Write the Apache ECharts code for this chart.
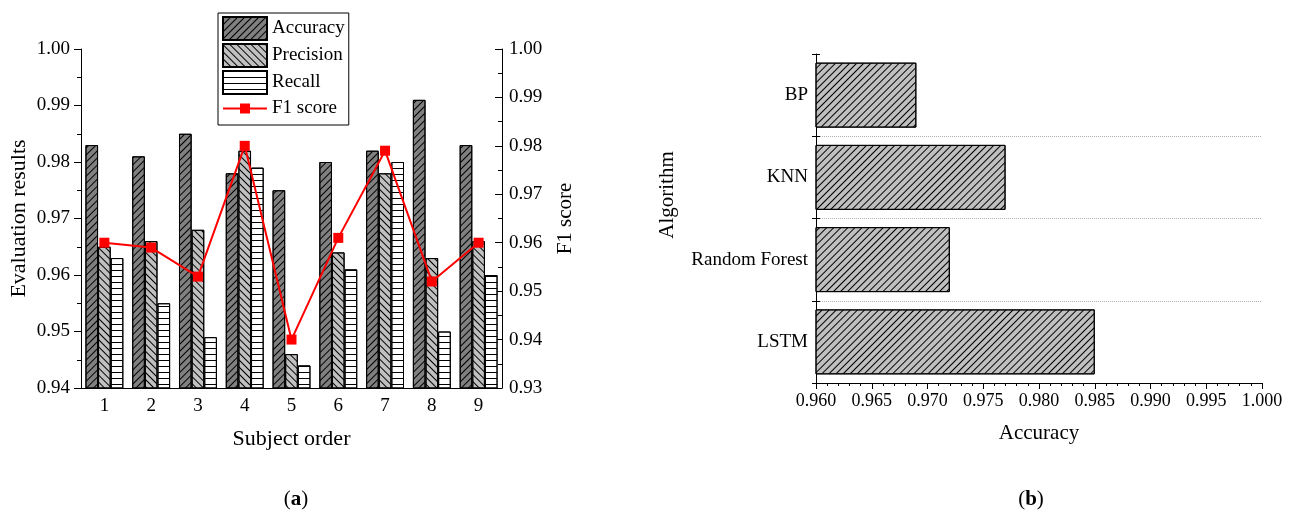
<!DOCTYPE html>
<html>
<head>
<meta charset="utf-8">
<script src="https://cdn.jsdelivr.net/npm/echarts@6/dist/echarts.min.js"></script>
<style>
html,body{margin:0;padding:0;background:#fff;}
#chart{width:1294px;height:523px;}
</style>
</head>
<body>
<div id="chart"></div>
<script>
// ---- data ----
var subjects = ['1', '2', '3', '4', '5', '6', '7', '8', '9'];
var accuracy = [0.983, 0.981, 0.985, 0.978, 0.975, 0.980, 0.982, 0.991, 0.983];
var precision = [0.965, 0.966, 0.968, 0.982, 0.946, 0.964, 0.978, 0.963, 0.966];
var recall = [0.963, 0.955, 0.949, 0.979, 0.944, 0.961, 0.980, 0.950, 0.960];
var f1Score = [0.960, 0.959, 0.953, 0.980, 0.940, 0.961, 0.979, 0.952, 0.960];
var algorithms = ['LSTM', 'Random Forest', 'KNN', 'BP'];
var algorithmAccuracy = [0.985, 0.972, 0.977, 0.969];

var FONT = "'Liberation Serif', 'Times New Roman', serif";
var chart = echarts.init(document.getElementById('chart'), null, {renderer: 'canvas'});

function hatch(rot, dy) {
  return {symbol: 'rect', symbolSize: 1, color: '#000', dashArrayX: [1, 0], dashArrayY: dy, rotation: rot};
}
var lineStyleBlack = {color: '#000', width: 1};
var f1Icon = 'path://M0,0L0.01,0L0,0.01Z M44,23L43.99,23L44,22.99Z ' +
  'M0,10.5L17,10.5L17,6.5L27,6.5L27,10.5L44,10.5L44,12.5L27,12.5L27,16.5L17,16.5L17,12.5L0,12.5Z';

var option = {
  backgroundColor: '#fff',
  animation: false,
  textStyle: {fontFamily: FONT, color: '#000'},
  title: [
    {text: '({b|a})', left: 291, top: 484, textAlign: 'center',
     textStyle: {fontFamily: FONT, fontWeight: 'normal', fontSize: 21, color: '#000',
       rich: {b: {fontFamily: FONT, fontWeight: 'bold', fontSize: 21, color: '#000'}}}},
    {text: '({b|b})', left: 1026, top: 484, textAlign: 'center',
     textStyle: {fontFamily: FONT, fontWeight: 'normal', fontSize: 21, color: '#000',
       rich: {b: {fontFamily: FONT, fontWeight: 'bold', fontSize: 21, color: '#000'}}}}
  ],
  graphic: [
    {type: 'text', x: 667, y: 195, rotation: Math.PI / 2,
     style: {text: 'Algorithm', font: "21px 'Liberation Serif', serif", fill: '#000',
       align: 'center', verticalAlign: 'middle'}}
  ],
  legend: {
    orient: 'vertical', left: 218, top: 13,
    itemWidth: 44, itemHeight: 23, itemGap: 2,
    padding: [3, 4, 5, 4],
    borderColor: '#000', borderWidth: 1, backgroundColor: '#fff',
    textStyle: {fontFamily: FONT, fontSize: 19, color: '#000'},
    data: [
      {name: 'Accuracy', icon: 'rect'},
      {name: 'Precision', icon: 'rect'},
      {name: 'Recall', icon: 'rect'},
      {name: 'F1 score', icon: f1Icon}
    ],
    z: 10
  },
  grid: [
    {left: 81, right: 792, top: 49, bottom: 135},
    {left: 816, right: 32, top: 54, bottom: 140}
  ],
  xAxis: [
    {type: 'category', gridIndex: 0, data: subjects,
     axisLine: {lineStyle: lineStyleBlack},
     axisTick: {alignWithLabel: true, length: 6, lineStyle: lineStyleBlack},
     axisLabel: {fontFamily: FONT, fontSize: 19, color: '#000', margin: 9},
     name: 'Subject order', nameLocation: 'middle', nameGap: 40,
     nameTextStyle: {fontFamily: FONT, fontSize: 22, color: '#000'}},
    {type: 'category', gridIndex: 0, data: subjects, position: 'bottom',
     axisLine: {show: false},
     axisTick: {length: 6, lineStyle: lineStyleBlack},
     axisLabel: {show: false}},
    {type: 'value', gridIndex: 1, min: 0.96, max: 1.0, interval: 0.005,
     axisLine: {show: true, lineStyle: lineStyleBlack},
     axisTick: {show: true, length: 6, lineStyle: lineStyleBlack},
     minorTick: {show: true, splitNumber: 5, length: 3, lineStyle: lineStyleBlack},
     splitLine: {show: false},
     axisLabel: {fontFamily: FONT, fontSize: 18, color: '#000', margin: 9,
       formatter: function (v) { return v.toFixed(3); }},
     name: 'Accuracy', nameLocation: 'middle', nameGap: 40,
     nameTextStyle: {fontFamily: FONT, fontSize: 21, color: '#000'}}
  ],
  yAxis: [
    {type: 'value', gridIndex: 0, position: 'left', min: 0.94, max: 1.0, interval: 0.01,
     axisLine: {show: true, lineStyle: lineStyleBlack},
     axisTick: {show: true, length: 7, lineStyle: lineStyleBlack},
     minorTick: {show: true, splitNumber: 2, length: 4, lineStyle: lineStyleBlack},
     splitLine: {show: false},
     axisLabel: {fontFamily: FONT, fontSize: 19, color: '#000', margin: 11,
       formatter: function (v) { return v.toFixed(2); }},
     name: 'Evaluation results', nameLocation: 'middle', nameGap: 51, nameRotate: 90,
     nameTextStyle: {fontFamily: FONT, fontSize: 22, color: '#000'}},
    {type: 'value', gridIndex: 0, position: 'right', min: 0.93, max: 1.0, interval: 0.01,
     axisLine: {show: true, lineStyle: lineStyleBlack},
     axisTick: {show: true, inside: true, length: 7, lineStyle: lineStyleBlack},
     minorTick: {show: true, splitNumber: 2, length: 4, lineStyle: lineStyleBlack},
     splitLine: {show: false},
     axisLabel: {fontFamily: FONT, fontSize: 19, color: '#000', margin: 7,
       formatter: function (v) { return v.toFixed(2); }},
     name: 'F1 score', nameLocation: 'middle', nameGap: 53, nameRotate: 90,
     nameTextStyle: {fontFamily: FONT, fontSize: 21, color: '#000'}},
    {type: 'category', gridIndex: 1, data: algorithms,
     axisLine: {show: true, lineStyle: lineStyleBlack},
     axisTick: {show: true, length: 4, lineStyle: lineStyleBlack},
     axisLabel: {fontFamily: FONT, fontSize: 19, color: '#000', margin: 8},
     splitLine: {show: true, showMinLine: false, showMaxLine: false,
       lineStyle: {color: '#b0b0b0', type: 'dotted', width: 1}}},
    {type: 'category', gridIndex: 1, data: algorithms, position: 'left',
     axisLine: {show: false},
     axisTick: {show: true, inside: true, length: 4, lineStyle: lineStyleBlack},
     axisLabel: {show: false}}
  ],
  series: [
    {name: 'Accuracy', type: 'bar', xAxisIndex: 0, yAxisIndex: 0, data: accuracy,
     barGap: '0%', barCategoryGap: '19%',
     itemStyle: {color: '#808080', borderColor: '#000', borderWidth: 1,
       decal: hatch(-Math.PI / 4, [1, 4])}},
    {name: 'Precision', type: 'bar', xAxisIndex: 0, yAxisIndex: 0, data: precision,
     barGap: '0%', barCategoryGap: '19%',
     itemStyle: {color: '#c0c0c0', borderColor: '#000', borderWidth: 1,
       decal: hatch(Math.PI / 4, [1, 4])}},
    {name: 'Recall', type: 'bar', xAxisIndex: 0, yAxisIndex: 0, data: recall,
     barGap: '0%', barCategoryGap: '19%',
     itemStyle: {color: '#ffffff', borderColor: '#000', borderWidth: 1,
       decal: hatch(0, [1, 5])}},
    {name: 'F1 score', type: 'line', xAxisIndex: 0, yAxisIndex: 1, data: f1Score,
     symbol: 'rect', symbolSize: 10, z: 5,
     lineStyle: {color: '#ff0000', width: 2},
     itemStyle: {color: '#ff0000'}},
    {name: 'Algorithm accuracy', type: 'bar', xAxisIndex: 2, yAxisIndex: 2, data: algorithmAccuracy,
     barCategoryGap: '21%',
     itemStyle: {color: '#c0c0c0', borderColor: '#000', borderWidth: 1,
       decal: hatch(-Math.PI / 4, [1, 4])}}
  ]
};
chart.setOption(option);
</script>
</body>
</html>
